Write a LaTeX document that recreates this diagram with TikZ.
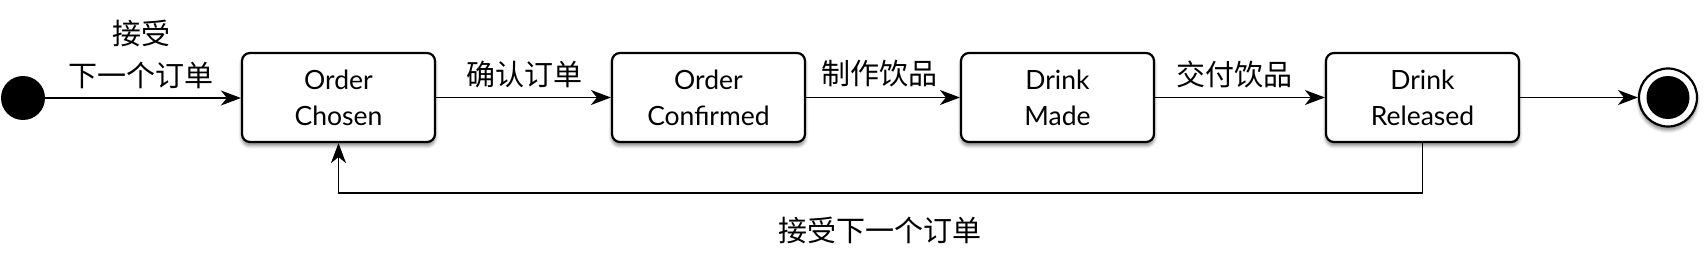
\documentclass[tikz,border=0pt]{standalone}
\usepackage{fontspec}
\setmainfont{Lato}
\newfontfamily\cjk{Noto Sans CJK SC}
\usetikzlibrary{arrows.meta,shadows.blur}
\tikzset{
  statebox/.style={draw=black, line width=2.2pt, rounded corners=8pt, fill=white,
    minimum width=193pt, minimum height=89pt, align=center,
    font=\fontsize{26.5}{36}\selectfont,
    blur shadow={shadow xshift=0pt, shadow yshift=-3.5pt, shadow blur radius=3.5pt, shadow opacity=50, shadow blur steps=6}},
  conn/.style={line width=1.8pt, -{Stealth[length=20pt,width=15pt,inset=6pt]}},
  lbl/.style={font=\cjk\fontsize{29}{42}\selectfont, align=center, inner sep=0pt},
}
\begin{document}
\begin{tikzpicture}[x=1pt,y=-1pt]
\useasboundingbox (0,0) rectangle (1706,262);
\node[circle, fill=black, minimum size=44pt, inner sep=0pt] (init) at (23,98) {};
\node[statebox] (s1) at (338.5,97.5) {Order\\Chosen};
\node[statebox] (s2) at (708.5,97.5) {Order\\Confirmed};
\node[statebox] (s3) at (1057.5,97.5) {Drink\\Made};
\node[statebox] (s4) at (1422.5,97.5) {Drink\\Released};
\node[circle, draw=black, line width=2.2pt, fill=white, minimum size=58pt, inner sep=0pt,
  blur shadow={shadow xshift=0pt, shadow yshift=-3.5pt, shadow blur radius=3.5pt, shadow opacity=50, shadow blur steps=6}] (fin) at (1668,97.5) {};
\node[circle, fill=black, minimum size=43pt, inner sep=0pt] (finin) at (fin.center) {};

\draw[conn] (init.east) -- (s1.west |- init.east);
\draw[conn] (s1.east) -- (s2.west);
\draw[conn] (s2.east) -- (s3.west);
\draw[conn] (s3.east) -- (s4.west);
\draw[conn] (s4.east) -- (fin.west);
\coordinate (lr) at (1422.5,193);
\coordinate (ll) at (338.5,193);
\draw[conn] (s4.south) -- (lr) -- (ll) -- (s1.south);

\node[lbl] (l0) at (141,54) {接受\\下一个订单};
\node[lbl] (l1) at (524,74) {确认订单};
\node[lbl] (l2) at (879,74) {制作饮品};
\node[lbl] (l3) at (1234,74) {交付饮品};
\node[lbl] (l4) at (880,230) {接受下一个订单};
\end{tikzpicture}
\end{document}
